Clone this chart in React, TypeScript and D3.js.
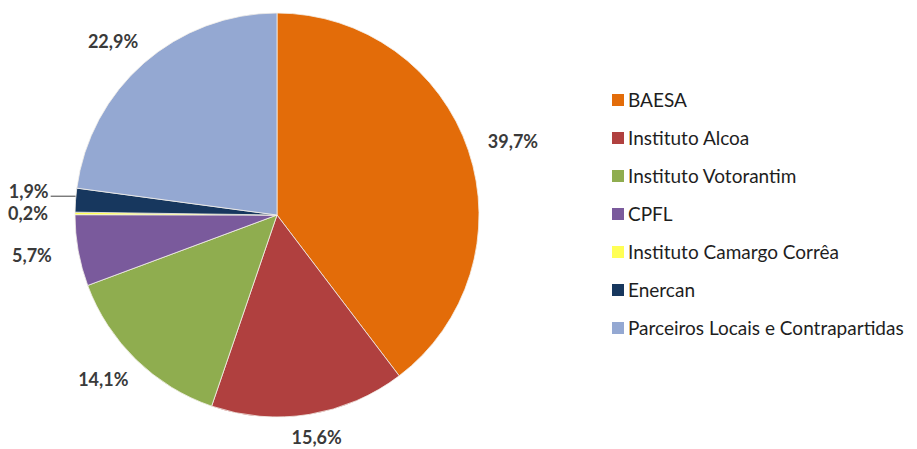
import React, { useEffect, useRef } from 'react';
import * as d3 from 'd3';

const categories = [
  'BAESA',
  'Instituto Alcoa',
  'Instituto Votorantim',
  'CPFL',
  'Instituto Camargo Corrêa',
  'Enercan',
  'Parceiros Locais e Contrapartidas',
];
const shares = [39.7, 15.6, 14.1, 5.7, 0.2, 1.9, 22.9];
const labels = ['39,7%', '15,6%', '14,1%', '5,7%', '0,2%', '1,9%', '22,9%'];
const colors = ['#E36C09', '#B0403F', '#8FAD4F', '#7A5A9C', '#FFFF55', '#17375E', '#94A8D2'];

interface Slice {
  name: string;
  value: number;
  label: string;
  color: string;
}

const App: React.FC = () => {
  const svgRef = useRef<SVGSVGElement>(null);

  useEffect(() => {
    if (!svgRef.current) return;
    const svg = d3.select(svgRef.current);
    svg.selectAll('*').remove();

    const width = 917;
    const height = 449;
    const cx = 277;
    const cy = 215;
    const radius = 202;

    const data: Slice[] = categories.map((name, i) => ({
      name,
      value: shares[i],
      label: labels[i],
      color: colors[i],
    }));

    const pie = d3.pie<Slice>().value(d => d.value).sort(null);
    const arcs = pie(data);
    const arc = d3.arc<d3.PieArcDatum<Slice>>().innerRadius(0).outerRadius(radius);

    svg.append('rect').attr('width', width).attr('height', height).attr('fill', '#fff');

    const g = svg.append('g').attr('transform', `translate(${cx},${cy})`);

    g.selectAll('path.slice')
      .data(arcs)
      .enter()
      .append('path')
      .attr('class', 'slice')
      .attr('d', arc)
      .attr('fill', d => d.data.color)
      .attr('stroke', '#f4f0ea')
      .attr('stroke-width', 0.8);

    // Label placement: outside the pie, box edge facing the slice
    const labelR = 222;
    const hw = 27;
    const hh = 8;
    const maxY = height - cy - 11;
    const pos = arcs.map(d => {
      const a = (d.startAngle + d.endAngle) / 2;
      const s = Math.sin(a);
      const c = Math.cos(a);
      return {
        x: labelR * s + hw * s,
        y: Math.min(maxY, -labelR * c - hh * c),
        shifted: false,
      };
    });
    // simple overlap avoidance between neighbouring labels
    for (let i = 1; i < pos.length; i++) {
      const p = pos[i];
      const q = pos[i - 1];
      if (Math.abs(p.x - q.x) < 2 * hw && Math.abs(p.y - q.y) < 22) {
        p.y = q.y + (p.y < q.y ? -22 : 22);
        p.shifted = true;
      }
    }

    const font = 'Lato, "Open Sans", sans-serif';

    arcs.forEach((d, i) => {
      const p = pos[i];
      if (p.shifted) {
        const edge = d3.arc<d3.PieArcDatum<Slice>>().innerRadius(radius).outerRadius(radius).centroid(d);
        g.append('line')
          .attr('x1', p.x + hw - 5)
          .attr('y1', p.y + 5)
          .attr('x2', edge[0])
          .attr('y2', p.y + 5)
          .attr('stroke', '#404040')
          .attr('stroke-width', 1);
      }
      g.append('text')
        .attr('x', p.x)
        .attr('y', p.y)
        .attr('dy', '0.36em')
        .attr('text-anchor', 'middle')
        .style('font-family', font)
        .style('font-size', '18px')
        .style('font-weight', 'bold')
        .style('fill', '#3a3a3a')
        .text(d.data.label);
    });

    // Legend
    const legendY = d3.scaleLinear().domain([0, 1]).range([100, 138]);
    const legend = svg.append('g').attr('transform', 'translate(612,0)');
    data.forEach((d, i) => {
      const y = legendY(i);
      legend.append('rect')
        .attr('x', 0)
        .attr('y', y - 6)
        .attr('width', 12)
        .attr('height', 12)
        .attr('fill', d.color);
      legend.append('text')
        .attr('x', 16)
        .attr('y', y)
        .attr('dy', '0.36em')
        .style('font-family', font)
        .style('font-size', '19px')
        .style('fill', '#1e1e1e')
        .text(d.name);
    });
  }, []);

  return (
    <svg
      ref={svgRef}
      width={917}
      height={449}
      viewBox="0 0 917 449"
      style={{ position: 'absolute', left: 0, top: 0 }}
    />
  );
};

export default App;
